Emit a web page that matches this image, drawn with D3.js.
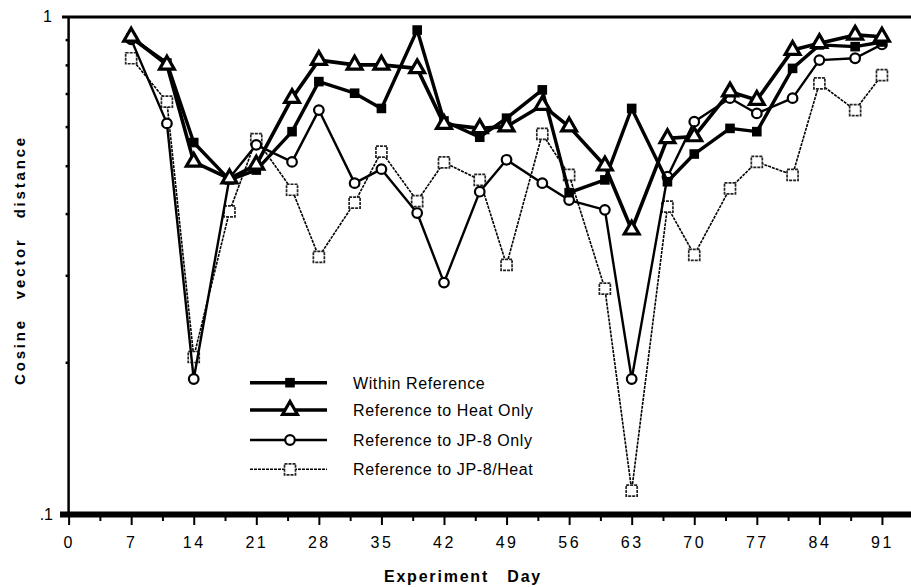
<!DOCTYPE html>
<html>
<head>
<meta charset="utf-8">
<script src="https://cdn.jsdelivr.net/npm/d3@7"></script>
<style>
	body { margin: 0; background: #ffffff; }
	svg { display: block; font-family: 'Liberation Sans', Arial, sans-serif; }
</style>
</head>
<body>
<div id="chart"></div>
<script>

// experiment days sampled
const days = [7, 11, 14, 18, 21, 25, 28, 32, 35, 39, 42, 46, 49, 53, 56, 60, 63, 67, 70, 74, 77, 81, 84, 88, 91];

const withinRef = [0.907, 0.807, 0.557, 0.468, 0.490, 0.586, 0.740, 0.701, 0.653, 0.941, 0.616, 0.571, 0.624,
	0.712, 0.441, 0.468, 0.653, 0.464, 0.528, 0.595, 0.586, 0.787, 0.878, 0.871, 0.890];

const heatOnly = [0.912, 0.800, 0.509, 0.471, 0.502, 0.685, 0.818, 0.800, 0.800, 0.787, 0.607, 0.595, 0.600,
	0.663, 0.600, 0.500, 0.371, 0.568, 0.573, 0.706, 0.679, 0.857, 0.885, 0.920, 0.912];

const jp8Only = [0.901, 0.609, 0.185, 0.472, 0.551, 0.509, 0.648, 0.461, 0.492, 0.401, 0.290, 0.443, 0.514,
	0.461, 0.426, 0.407, 0.185, 0.475, 0.614, 0.685, 0.638, 0.685, 0.818, 0.825, 0.880];

const jp8Heat = [0.825, 0.674, 0.205, 0.404, 0.566, 0.447, 0.327, 0.421, 0.534, 0.424, 0.508, 0.468, 0.315,
	0.580, 0.479, 0.282, 0.110, 0.413, 0.330, 0.450, 0.509, 0.479, 0.734, 0.648, 0.763];

const seriesNames = ['Within Reference', 'Reference to Heat Only', 'Reference to JP-8 Only', 'Reference to JP-8/Heat'];

const xTicks = [0, 7, 14, 21, 28, 35, 42, 49, 56, 63, 70, 77, 84, 91];
const xMinorTicks = [3.5, 10.5, 17.5, 24.5, 31.5, 38.5, 45.5, 52.5, 59.5, 66.5, 73.5, 80.5, 87.5];
const yMinorTicks = [0.2, 0.3, 0.4, 0.5, 0.6, 0.7, 0.8, 0.9];

const width = 911;
const height = 587;

let x = d3.scaleLinear()
	.domain([0, 94.25])
	.range([68.6, 911]);

let y = d3.scaleLog()
	.domain([0.1, 1])
	.range([511, 17]);

let svg = d3.select('#chart').append('svg')
	.attr('width', width)
	.attr('height', height);

// styles per series, drawn in this order
let series = [
	{ name: seriesNames[3], values: jp8Heat, stroke: 1.6, dash: '3,1', marker: 'square' },
	{ name: seriesNames[2], values: jp8Only, stroke: 2.4, dash: null, marker: 'circle' },
	{ name: seriesNames[0], values: withinRef, stroke: 3.4, dash: null, marker: 'filled' },
	{ name: seriesNames[1], values: heatOnly, stroke: 3.6, dash: null, marker: 'triangle' }
];

function drawMarker(g, type, cx, cy)
{
	if(type == 'filled')
	{
		g.append('rect')
			.attr('x', cx - 4.8)
			.attr('y', cy - 4.8)
			.attr('width', 9.6)
			.attr('height', 9.6)
			.attr('fill', '#000');
	}
	else if(type == 'square')
	{
		g.append('rect')
			.attr('x', cx - 5.5)
			.attr('y', cy - 5.5)
			.attr('width', 11)
			.attr('height', 11)
			.attr('fill', '#fff')
			.attr('stroke', '#222')
			.attr('stroke-width', 1.7)
			.attr('stroke-dasharray', '3,1');
	}
	else if(type == 'circle')
	{
		g.append('circle')
			.attr('cx', cx)
			.attr('cy', cy)
			.attr('r', 4.8)
			.attr('fill', '#fff')
			.attr('stroke', '#000')
			.attr('stroke-width', 2.2);
	}
	else
	{
		g.append('path')
			.attr('d', d3.symbol().type(d3.symbolTriangle).size(95)())
			.attr('transform', `translate(${cx}, ${cy})`)
			.attr('fill', '#fff')
			.attr('stroke', '#000')
			.attr('stroke-width', 3.2)
			.attr('stroke-linejoin', 'miter');
	}
}

let line = d3.line()
	.x(d => x(d[0]))
	.y(d => y(d[1]));

for(let s of series)
{
	let g = svg.append('g');
	let pts = days.map((d, i) => [d, s.values[i]]);

	g.append('path')
		.datum(pts)
		.attr('d', line)
		.attr('fill', 'none')
		.attr('stroke', '#000')
		.attr('stroke-width', s.stroke)
		.attr('stroke-dasharray', s.dash)
		.attr('stroke-linejoin', 'round');

	for(let p of pts)
		drawMarker(g, s.marker, x(p[0]), y(p[1]));
}

// frame: top line, left axis, thick bottom axis
svg.append('line')
	.attr('x1', 62).attr('x2', width)
	.attr('y1', y(1)).attr('y2', y(1))
	.attr('stroke', '#000').attr('stroke-width', 3);

svg.append('line')
	.attr('x1', x(0)).attr('x2', x(0))
	.attr('y1', y(1)).attr('y2', y(0.1) + 4)
	.attr('stroke', '#000').attr('stroke-width', 2.5);

svg.append('line')
	.attr('x1', 60).attr('x2', width)
	.attr('y1', y(0.1) + 3.5).attr('y2', y(0.1) + 3.5)
	.attr('stroke', '#000').attr('stroke-width', 6);

// y minor ticks
svg.append('g')
	.attr('transform', `translate(${x(0)}, 0)`)
	.call(d3.axisLeft(y).tickValues(yMinorTicks).tickSize(3).tickFormat(''))
	.call(g => g.select('.domain').remove())
	.selectAll('line')
	.attr('stroke-width', 2.5);

svg.append('text')
	.attr('x', 52)
	.attr('y', y(1) + 5)
	.attr('text-anchor', 'end')
	.style('font-size', '16px')
	.text('1');

svg.append('text')
	.attr('x', 53)
	.attr('y', y(0.1) + 9)
	.attr('text-anchor', 'end')
	.style('font-size', '16px')
	.text('.1');

// x axis ticks
let xAxisG = svg.append('g')
	.attr('transform', `translate(0, ${y(0.1) + 6})`)
	.call(d3.axisBottom(x).tickValues(xTicks).tickSize(8).tickPadding(12))
	.call(g => g.select('.domain').remove());

xAxisG.selectAll('line')
	.attr('stroke-width', 2);

xAxisG.selectAll('text')
	.style('font-size', '16px')
	.style('font-family', "'Liberation Sans', Arial, sans-serif")
	.style('letter-spacing', '2.5px')
	.attr('fill', '#000');

svg.append('g')
	.attr('transform', `translate(0, ${y(0.1) + 6})`)
	.call(d3.axisBottom(x).tickValues(xMinorTicks).tickSize(4).tickFormat(''))
	.call(g => g.select('.domain').remove())
	.selectAll('line')
	.attr('stroke-width', 2);

// axis titles
svg.append('text')
	.attr('x', 463)
	.attr('y', 582)
	.attr('text-anchor', 'middle')
	.style('font-size', '16px')
	.style('font-weight', 'bold')
	.style('letter-spacing', '1.8px')
	.style('word-spacing', '12px')
	.text('Experiment Day');

svg.append('text')
	.attr('transform', 'translate(25, 260) rotate(-90)')
	.attr('text-anchor', 'middle')
	.style('font-size', '15px')
	.style('font-weight', 'bold')
	.style('letter-spacing', '2.8px')
	.style('word-spacing', '12px')
	.text('Cosine vector distance');

// legend
let legendRows = [series[2], series[3], series[1], series[0]];
let legendY = [382.7, 410, 440, 469.3];

legendRows.forEach((s, i) => {
	let g = svg.append('g');

	g.append('line')
		.attr('x1', 250).attr('x2', 327)
		.attr('y1', legendY[i]).attr('y2', legendY[i])
		.attr('stroke', '#000')
		.attr('stroke-width', s.stroke)
		.attr('stroke-dasharray', s.dash);

	drawMarker(g, s.marker, 290, legendY[i]);

	g.append('text')
		.attr('x', 353)
		.attr('y', legendY[i] + 6)
		.style('font-size', '16px')
		.style('letter-spacing', '0.6px')
		.text(s.name);
});

</script>
</body>
</html>
